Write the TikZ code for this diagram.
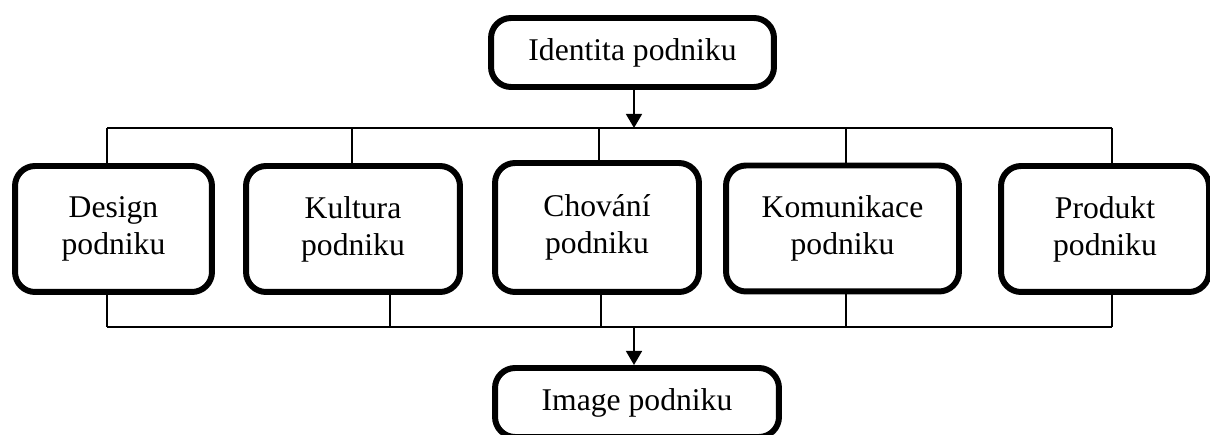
\documentclass[tikz,border=0pt]{standalone}
\usepackage{fontspec}
\setmainfont{Liberation Serif}
\usepackage{tikz}
\usetikzlibrary{
    arrows.meta,
    positioning,
    calc
}
\tikzstyle{unit} = [
    rectangle,
    rounded corners=0.4cm,
    draw=black,
    line width=3.4pt,
    inner sep=0pt,
    minimum height=2.52cm,
    align=center,
    font=\fontsize{18}{21}\selectfont
]
\tikzstyle{mainunit} = [
    unit,
    minimum width=5.66cm,
    minimum height=1.38cm
]
\tikzstyle{bus} = [
    draw=black,
    line width=0.75pt
]
\tikzstyle{flow} = [
    -{Triangle[width=9pt,length=8pt]},
    line width=1.3pt,
    draw=black
]

\begin{document}
\begin{tikzpicture}[x=0.02cm, y=-0.02cm]
        \clip (0,0) rectangle (1210,435);
        \useasboundingbox (0,0) rectangle (1210,435);

        % Identity
        \node[mainunit] (identita) at (632.5, 52.5) {Identita podniku};

        % Components
        \node[unit, minimum width=3.94cm] (design) at (113.5, 229) {Design\\podniku};
        \node[unit, minimum width=4.28cm] (kultura) at (353, 229) {Kultura\\podniku};
        \node[unit, minimum width=4.08cm, minimum height=2.58cm] (chovani) at (597, 227.5) {Chování\\podniku};
        \node[unit, minimum width=4.66cm] (komunikace) at (842.5, 228.5) {Komunikace\\podniku};
        \node[unit, minimum width=4.16cm] (produkt) at (1105, 229) {Produkt\\podniku};

        % Image
        \node[mainunit, minimum width=5.68cm] (image) at (637, 402.5) {Image podniku};

        % Buses
        \coordinate (topL) at (107, 128);
        \coordinate (topR) at (1112, 128);
        \coordinate (botL) at (107, 327);
        \coordinate (botR) at (1112, 327);
        \draw[bus] (topL) -- (topR);
        \draw[bus] (botL) -- (botR);

        % Stubs
        \foreach \n/\xt/\xb in {design/107/107, kultura/352/390, chovani/599/601, komunikace/846/846, produkt/1112/1112} {
            \coordinate (t\n) at (\xt, 128);
            \coordinate (b\n) at (\xb, 327);
            \draw[bus] (t\n) -- (t\n |- \n.north);
            \draw[bus] (b\n) -- (b\n |- \n.south);
        }

        % Arrows
        \coordinate (topIn) at (634, 128);
        \coordinate (botOut) at (634, 327);
        \draw[flow] (identita.south -| topIn) -- (topIn);
        \draw[flow] (botOut) -- (botOut |- image.north);
    \end{tikzpicture}
\end{document}
